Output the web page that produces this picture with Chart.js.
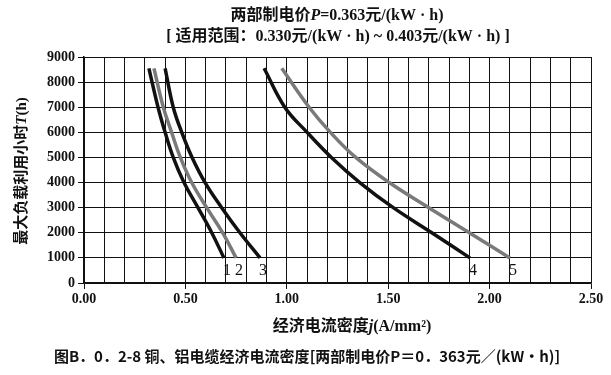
<!DOCTYPE html>
<html>
<head>
<meta charset="utf-8">
<script src="https://cdn.jsdelivr.net/npm/chart.js@4/dist/chart.umd.min.js"></script>
<style>
  html, body { margin: 0; padding: 0; background: #fff; }
  #wrap { width: 611px; height: 375px; position: relative; }
</style>
</head>
<body>
<div id="wrap"><canvas id="chart"></canvas></div>
<script>
// hours T (h) at which each curve was read
const hours = [8550, 7000, 6000, 5000, 4000, 3000, 2000, 1000];

// current density j (A/mm2) for each curve, same order as hours
const curve1 = [0.32, 0.365, 0.40, 0.44, 0.493, 0.562, 0.63, 0.69];
const curve2 = [0.345, 0.391, 0.432, 0.475, 0.531, 0.605, 0.684, 0.75];
const curve3 = [0.40, 0.44, 0.482, 0.533, 0.597, 0.679, 0.769, 0.868];
const curve4 = [0.888, 0.99, 1.1, 1.22, 1.36, 1.525, 1.715, 1.903];
const curve5 = [0.975, 1.11, 1.215, 1.34, 1.505, 1.7, 1.9, 2.10];

const curveNames = ['1', '2', '3', '4', '5'];
const curveColors = ['#111', '#7a7a7a', '#111', '#111', '#7a7a7a'];
const labelHour = 500;

const xMin = 0, xMax = 2.5, xStep = 0.1;
const yMin = 0, yMax = 9000, yStep = 1000;

const allCurves = [curve1, curve2, curve3, curve4, curve5];

const datasets = allCurves.map((c, i) => ({
    label: curveNames[i],
    data: c.map((j, k) => ({ x: j, y: hours[k] })),
    showLine: true,
    borderColor: curveColors[i],
    borderWidth: 3.5,
    pointRadius: 0,
    tension: 0.4,
    fill: false
}));

// draws a row of text pieces with mixed fonts, centred on cx
function drawRuns(ctx, runs, cx, cy) {
    let total = 0;
    runs.forEach(r => { ctx.font = r.font; r.w = ctx.measureText(r.text).width; total += r.w; });
    let x = cx - total / 2;
    ctx.textAlign = 'left';
    ctx.textBaseline = 'middle';
    runs.forEach(r => { ctx.font = r.font; ctx.fillText(r.text, x, cy); x += r.w; });
}

const textPlugin = {
    id: 'texts',
    afterDraw(chart) {
        const ctx = chart.ctx;
        const xs = chart.scales.x, ys = chart.scales.y;
        const serif = "'Liberation Serif', 'Noto Sans CJK SC'";
        const b = 'bold 16px ' + serif;
        const bi = 'italic bold 16px ' + serif;
        const b15 = 'bold 15px ' + serif;
        const bi15 = 'italic bold 15px ' + serif;
        ctx.save();
        ctx.fillStyle = '#111';

        drawRuns(ctx, [
            { text: '两部制电价', font: b },
            { text: 'P', font: bi },
            { text: '=0.363元/(kW · h)', font: b }
        ], 337, 16);
        drawRuns(ctx, [
            { text: '[ 适用范围：0.330元/(kW · h) ~ 0.403元/(kW · h) ]', font: b }
        ], 338, 37);

        drawRuns(ctx, [
            { text: '经济电流密度', font: b },
            { text: 'j', font: bi },
            { text: '(A/mm²)', font: b }
        ], 352, 327);

        ctx.save();
        ctx.translate(22, 171);
        ctx.rotate(-Math.PI / 2);
        drawRuns(ctx, [
            { text: '最大负载利用小时', font: b15 },
            { text: 'T', font: bi15 },
            { text: '(h)', font: b15 }
        ], 0, 0);
        ctx.restore();

        drawRuns(ctx, [
            { text: '图B．0．2-8 铜、铝电缆经济电流密度[两部制电价P＝0．363元／(kW•h)]',
              font: "bold 15px 'Noto Sans CJK SC'" }
        ], 307, 356);

        // curve numbers under the curve ends
        ctx.font = '16px ' + serif;
        ctx.textAlign = 'center';
        ctx.textBaseline = 'middle';
        allCurves.forEach((c, i) => {
            const px = xs.getPixelForValue(c[c.length - 1]) + 3;
            const py = ys.getPixelForValue(labelHour);
            ctx.fillText(curveNames[i], px, py);
        });
        ctx.restore();
    }
};

const isMajor = v => Math.round(v * 10) % 5 === 0;

new Chart(document.getElementById('chart'), {
    type: 'scatter',
    data: { datasets: datasets },
    options: {
        responsive: true,
        maintainAspectRatio: false,
        animation: false,
        layout: { padding: { left: 0, top: 57, right: 20, bottom: 0 } },
        plugins: { legend: { display: false }, tooltip: { enabled: false } },
        scales: {
            x: {
                type: 'linear', min: xMin, max: xMax,
                afterFit: s => { s.height = 92; },
                border: { color: '#111', width: 1.5 },
                grid: {
                    color: '#111', lineWidth: 1, tickLength: 6,
                    tickColor: c => isMajor(c.tick.value) ? '#111' : 'rgba(0,0,0,0)'
                },
                ticks: {
                    stepSize: xStep, autoSkip: false, maxRotation: 0, padding: 2,
                    color: '#111',
                    font: { family: "'Liberation Serif'", size: 14, weight: 'bold' },
                    callback: v => isMajor(v) ? v.toFixed(2) : ''
                }
            },
            y: {
                type: 'linear', min: yMin, max: yMax,
                afterFit: s => { s.width = 84; },
                border: { color: '#111', width: 1.5 },
                grid: { color: '#111', lineWidth: 1, tickLength: 6, tickColor: '#111' },
                ticks: {
                    stepSize: yStep, padding: 3, color: '#111',
                    font: { family: "'Liberation Serif'", size: 14, weight: 'bold' },
                    callback: v => String(v)
                }
            }
        }
    },
    plugins: [textPlugin]
});
</script>
</body>
</html>
